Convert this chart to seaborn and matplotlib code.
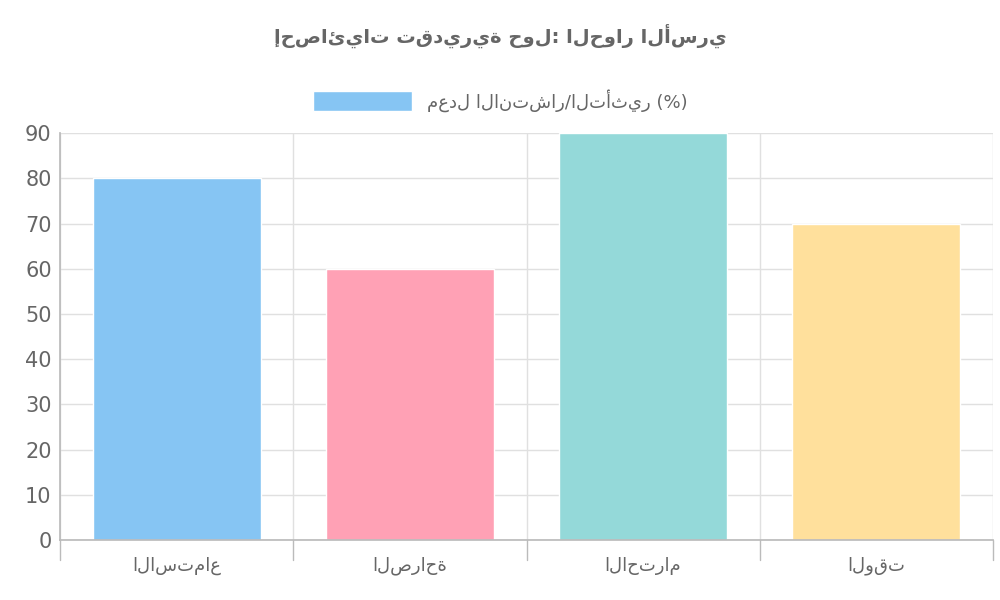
import matplotlib
matplotlib.use("Agg")
import matplotlib.pyplot as plt
import seaborn as sns
import pandas as pd
from matplotlib.patches import Patch

categories = ["الاستماع", "الصراحة", "الاحترام", "الوقت"]
values = [80, 60, 90, 70]
colors = ["#86c5f3", "#ffa1b5", "#94d9d9", "#ffe09c"]
title = "إحصائيات تقديرية حول: الحوار الأسري"
legend_label = "معدل الانتشار/التأثير (%)"

sns.set_theme(style="white")
plt.rcParams['font.family'] = ['DejaVu Sans', 'Noto Sans']

df = pd.DataFrame({"cat": categories, "val": values})
fig = plt.figure(figsize=(10, 6), dpi=100)
ax = fig.add_axes([0.06, 0.1, 0.933, 0.678])
sns.barplot(data=df, x="cat", y="val", hue="cat", palette=colors, ax=ax,
            width=0.72, legend=False, saturation=1)
ax.set_ylim(0, 90)
ax.set_xlim(-0.5, 3.5)
ax.set_yticks(range(0, 91, 10))
ax.set_xlabel("")
ax.set_ylabel("")
ax.tick_params(axis='y', labelsize=15, colors="#666666", length=0, pad=6)
ax.tick_params(axis='x', labelsize=13, colors="#666666", length=0, pad=12)
for y in range(0, 91, 10):
    ax.axhline(y, color="#e0e0e0", lw=1, zorder=0)
for x in [-0.5, 0.5, 1.5, 2.5, 3.5]:
    ax.axvline(x, color="#e0e0e0", lw=1, zorder=0)
    ax.plot([x, x], [0, -4.5], color="#bbbbbb", lw=1, clip_on=False)
for s in ["top", "right"]:
    ax.spines[s].set_visible(False)
ax.spines["left"].set_color("#bbbbbb")
ax.spines["bottom"].set_color("#bbbbbb")

fig.text(0.5, 0.94, title, ha="center", va="center", fontsize=14,
         fontweight="bold", color="#666666")
fig.legend(handles=[Patch(facecolor=colors[0], label=legend_label)],
           loc="center", bbox_to_anchor=(0.5, 0.833), frameon=False,
           fontsize=13, labelcolor="#666666", handlelength=5.5, handleheight=1.3)
fig.savefig("out.png", dpi=100)
